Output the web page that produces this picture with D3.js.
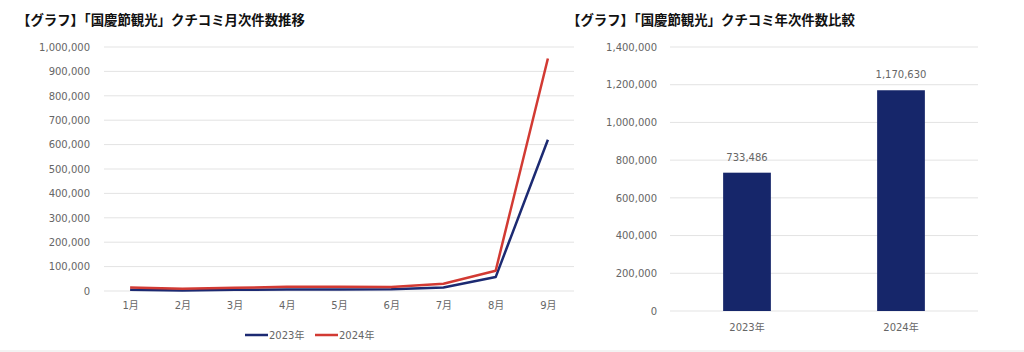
<!DOCTYPE html>
<html>
<head>
<meta charset="utf-8">
<script src="https://cdn.jsdelivr.net/npm/d3@7"></script>
<style>
	body { margin: 0; background: #fff; }
	svg { display: block; }
	.title { font-family: "Noto Sans CJK JP", sans-serif; font-weight: bold; font-size: 13.4px; fill: #111; }
	.tick text, .label { font-family: "DejaVu Sans", "Noto Sans CJK JP", sans-serif; fill: #666; font-size: 10px; }
	.grid line { stroke: #e3e3e3; }
</style>
</head>
<body>
<svg width="1024" height="352"></svg>
<script>
// monthly counts
let months = ['1月', '2月', '3月', '4月', '5月', '6月', '7月', '8月', '9月'];
let monthly2023 = [5000, 2000, 5000, 6000, 6000, 7000, 14000, 57000, 620000];
let monthly2024 = [14000, 9000, 13000, 17000, 17000, 16000, 30000, 83000, 953000];
let lineTicks = [0, 100000, 200000, 300000, 400000, 500000, 600000, 700000, 800000, 900000, 1000000];

// yearly totals
let years = ['2023年', '2024年'];
let yearTotals = [733486, 1170630];
let barTicks = [0, 200000, 400000, 600000, 800000, 1000000, 1200000, 1400000];

let svg = d3.select('svg');
let fmt = d3.format(',');

// faint bottom border
svg.append('rect').attr('x', 0).attr('y', 350).attr('width', 1024).attr('height', 2).attr('fill', '#f3f3f3');

// ---- Left: line chart ----
let xScale = d3.scalePoint().domain(months).range([104, 574]).padding(0.5);
let yScale = d3.scaleLinear().domain([0, 1000000]).range([291, 47]);

svg.append('text').attr('class', 'title').attr('x', 17).attr('y', 25)
	.text('【グラフ】「国慶節観光」クチコミ月次件数推移');

svg.append('g').attr('class', 'grid')
	.selectAll('line').data(lineTicks).enter().append('line')
	.attr('x1', 104).attr('x2', 574)
	.attr('y1', d => yScale(d)).attr('y2', d => yScale(d));

let yAxisL = svg.append('g').attr('transform', 'translate(96,0)')
	.call(d3.axisLeft(yScale).tickValues(lineTicks).tickFormat(fmt).tickSize(0).tickPadding(6));
yAxisL.select('.domain').remove();

let xAxisL = svg.append('g').attr('transform', 'translate(0,300)')
	.call(d3.axisBottom(xScale).tickSize(0).tickPadding(2));
xAxisL.select('.domain').remove();

let series = [
	{ name: '2023年', values: monthly2023, color: '#1c2a72' },
	{ name: '2024年', values: monthly2024, color: '#d23a33' }
];
let line = d3.line().x((d, i) => xScale(months[i])).y(d => yScale(d));

series.forEach(function(s) {
	svg.append('path').datum(s.values)
		.attr('fill', 'none').attr('stroke', s.color).attr('stroke-width', 2.5)
		.attr('stroke-linejoin', 'round')
		.attr('d', line);
});

// legend
let legend = svg.append('g').selectAll('g').data(series).enter().append('g')
	.attr('transform', (d, i) => 'translate(' + (245 + i * 70) + ',335)');
legend.append('line').attr('x1', 0).attr('x2', 23).attr('y1', 0).attr('y2', 0)
	.attr('stroke', d => d.color).attr('stroke-width', 2.5);
legend.append('text').attr('class', 'label').attr('x', 24).attr('y', 4).text(d => d.name);

// ---- Right: bar chart ----
let xBar = d3.scaleBand().domain(years).range([670, 978]).paddingInner(0.69).paddingOuter(0.345);
let yBar = d3.scaleLinear().domain([0, 1400000]).range([311, 47]);

svg.append('text').attr('class', 'title').attr('x', 567).attr('y', 25)
	.text('【グラフ】「国慶節観光」クチコミ年次件数比較');

svg.append('g').attr('class', 'grid')
	.selectAll('line').data(barTicks).enter().append('line')
	.attr('x1', 670).attr('x2', 978)
	.attr('y1', d => yBar(d)).attr('y2', d => yBar(d));

let yAxisR = svg.append('g').attr('transform', 'translate(663,0)')
	.call(d3.axisLeft(yBar).tickValues(barTicks).tickFormat(fmt).tickSize(0).tickPadding(6));
yAxisR.select('.domain').remove();

let xAxisR = svg.append('g').attr('transform', 'translate(0,321)')
	.call(d3.axisBottom(xBar).tickSize(0).tickPadding(3));
xAxisR.select('.domain').remove();

svg.append('g').selectAll('rect').data(yearTotals).enter().append('rect')
	.attr('x', (d, i) => xBar(years[i]))
	.attr('width', xBar.bandwidth())
	.attr('y', d => yBar(d))
	.attr('height', d => yBar(0) - yBar(d))
	.attr('fill', '#16266a');

svg.append('g').selectAll('text').data(yearTotals).enter().append('text')
	.attr('class', 'label')
	.attr('text-anchor', 'middle')
	.attr('x', (d, i) => xBar(years[i]) + xBar.bandwidth() / 2)
	.attr('y', d => yBar(d) - 12)
	.text(d => fmt(d));
</script>
</body>
</html>
